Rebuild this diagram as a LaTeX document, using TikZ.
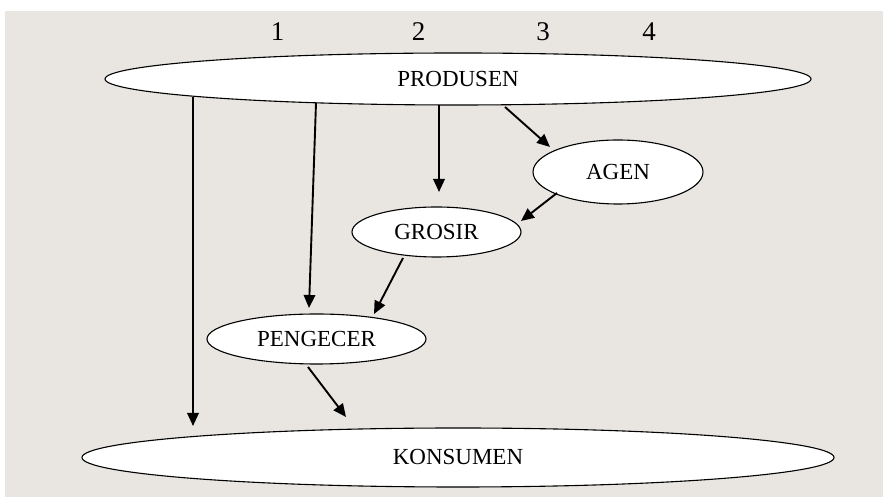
\documentclass[tikz,border=0pt]{standalone}
\usepackage{fontspec}
\setmainfont{Liberation Serif}
\usetikzlibrary{shapes.geometric,arrows.meta,calc}
\definecolor{bggray}{HTML}{E9E6E1}
\tikzset{
  oval/.style={ellipse, draw=black, line width=1.1pt, fill=white, inner sep=0pt,
    font=\fontsize{23}{23}\selectfont},
  arr/.style={line width=1.9pt, -{Triangle[length=13pt,width=11.5pt]}},
  numlabel/.style={font=\fontsize{27}{27}\selectfont, inner sep=0pt}
}
\begin{document}
\begin{tikzpicture}[x=1pt,y=1pt]
\useasboundingbox (0,0) rectangle (883,497);
\fill[white] (0,0) rectangle (883,497);
\fill[bggray] (5,0) rectangle (883,486);
% numbers
\node[numlabel] (n1) at (277.5,465) {1};
\node[numlabel] (n2) at (418.5,465) {2};
\node[numlabel] (n3) at (543,465) {3};
\node[numlabel] (n4) at (649,465) {4};
% nodes
\node[oval, minimum width=706pt, minimum height=52pt] (prod) at (458,418) {PRODUSEN};
\node[oval, minimum width=170pt, minimum height=64pt] (agen) at (618,325) {AGEN};
\node[oval, minimum width=169pt, minimum height=50pt] (gros) at (436.5,265) {GROSIR};
\node[oval, minimum width=219pt, minimum height=50pt] (peng) at (316.5,158) {PENGECER};
\node[oval, minimum width=752pt, minimum height=59pt] (kons) at (458,39.5) {KONSUMEN};
% connectors
\draw[arr] ($(prod.center)+(-265,-18)$) -- ($(kons.center)+(-265,31.5)$);
\draw[arr] ($(prod.center)+(-142,-24)$) -- ($(peng.center)+(-7.5,31)$);
\draw[arr] ($(prod.center)+(-19,-26)$) -- ($(gros.center)+(2.5,40)$);
\draw[arr] ($(prod.center)+(47,-28)$) -- ($(agen.center)+(-68,25)$);
\draw[arr] ($(agen.center)+(-61,-21)$) -- ($(gros.center)+(84.5,11)$);
\draw[arr] ($(gros.center)+(-33.5,-26)$) -- ($(peng.center)+(57.5,25)$);
\draw[arr] ($(peng.center)+(-8.5,-28)$) -- ($(kons.center)+(-112,40.5)$);
\end{tikzpicture}
\end{document}
